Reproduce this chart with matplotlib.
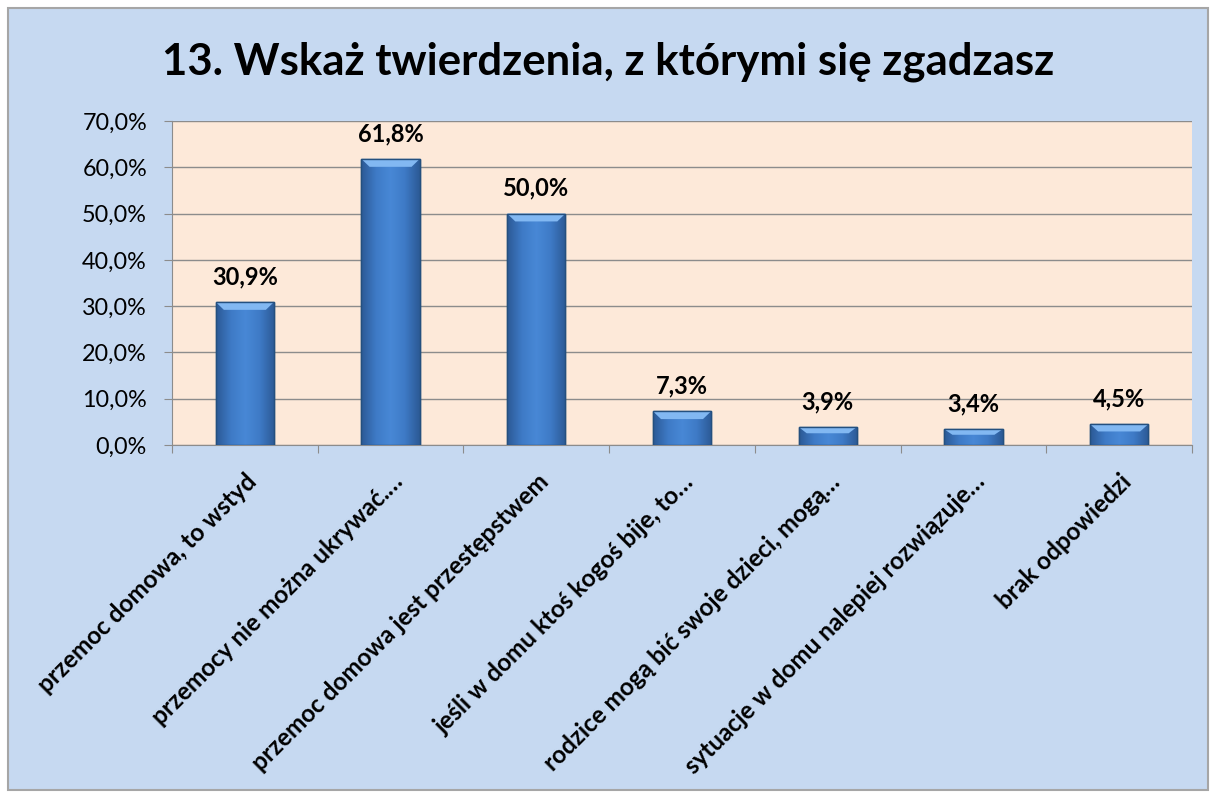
import numpy as np
import matplotlib
matplotlib.use("Agg")
from matplotlib import pyplot as plt
from matplotlib.patches import Rectangle
from matplotlib.colors import LinearSegmentedColormap

plt.rcParams["font.family"] = ["Lato", "DejaVu Sans"]

# dane
kategorie = [
    "przemoc domowa, to wstyd",
    "przemocy nie można ukrywać.…",
    "przemoc domowa jest przestępstwem",
    "jeśli w domu ktoś kogoś bije, to…",
    "rodzice mogą bić swoje dzieci, mogą…",
    "sytuacje w domu nalepiej rozwiązuje…",
    "brak odpowiedzi",
]
wartosci = [30.9, 61.8, 50.0, 7.3, 3.9, 3.4, 4.5]
etykiety_y = ["0,0%", "10,0%", "20,0%", "30,0%", "40,0%", "50,0%", "60,0%", "70,0%"]
tytul = "13. Wskaż twierdzenia, z którymi się zgadzasz"

W, H = 1216, 796
fig = plt.figure(figsize=(W / 100, H / 100), dpi=100)
fig.patch.set_facecolor("white")
# tło wykresu z ramką
fig.patches.append(Rectangle((8 / W, 6 / H), 1200 / W, 782 / H, transform=fig.transFigure,
                             facecolor="#C6D9F1", edgecolor="#A6A6A6", lw=1.5, zorder=-5))

ax = fig.add_axes([172 / W, 1 - 445 / H, (1192 - 172) / W, (445 - 121) / H])
ax.set_facecolor("#FDE9D9")
x = np.arange(len(wartosci))
bars = ax.bar(x, wartosci, width=0.4, color="#3E7AC6", edgecolor="#24507F", lw=1, zorder=3)

# gradient na słupkach (ciemne brzegi, jaśniejszy środek)
cmap = LinearSegmentedColormap.from_list("slupek", ["#2C5A96", "#3E7AC6", "#4888D6", "#3E7AC6", "#2C5A96"])
gx = np.linspace(0, 1, 64)
for b in bars:
    x0, y0, w, h = b.get_x(), b.get_y(), b.get_width(), b.get_height()
    grad = np.tile(gx, (32, 1))
    im = ax.imshow(grad, cmap=cmap, extent=[x0, x0 + w, y0, y0 + h], aspect="auto",
                   zorder=3.5, interpolation="bicubic", origin="lower")
    im.set_clip_path(b)
    top = min(1.7, h * 0.35)
    ax.fill([x0, x0 + w, x0 + w * 0.86, x0 + w * 0.14], [y0 + h, y0 + h, y0 + h - top, y0 + h - top],
            color="#82B8F2", zorder=4, lw=0)
    ax.add_patch(Rectangle((x0, y0), w, h, fill=False, edgecolor="#24507F", lw=1, zorder=5))
    ax.text(x0 + w / 2, h + 3.0, f"{h:.1f}%".replace(".", ","), ha="center", va="bottom",
            fontsize=17, fontweight="bold", zorder=6)

ax.set_xlim(-0.5, len(wartosci) - 0.5)
ax.set_ylim(0, 70)
ax.set_yticks(np.arange(0, 71, 10))
ax.set_yticklabels(etykiety_y, fontsize=16.8)
ax.grid(axis="y", color="#8C8C8C", lw=1, zorder=1)
ax.set_xticks(np.arange(-0.5, len(wartosci), 1))
ax.set_xticklabels([])
ax.tick_params(axis="y", length=6, color="#8C8C8C", pad=12)
ax.tick_params(axis="x", length=6, color="#8C8C8C")
for s in ["top", "right"]:
    ax.spines[s].set_visible(False)
for s in ["left", "bottom"]:
    ax.spines[s].set_color("#8C8C8C")

for i, k in enumerate(kategorie):
    ax.annotate(k, xy=(i, 0), xycoords=("data", "axes fraction"), xytext=(0, -18),
                textcoords="offset points", rotation=45, ha="right", va="top",
                rotation_mode="anchor", fontsize=17.5, fontweight="bold")

fig.text(608 / W, 1 - 62 / H, tytul, ha="center", va="center", fontsize=31.5, fontweight="bold")

fig.savefig("out.png", dpi=100)
